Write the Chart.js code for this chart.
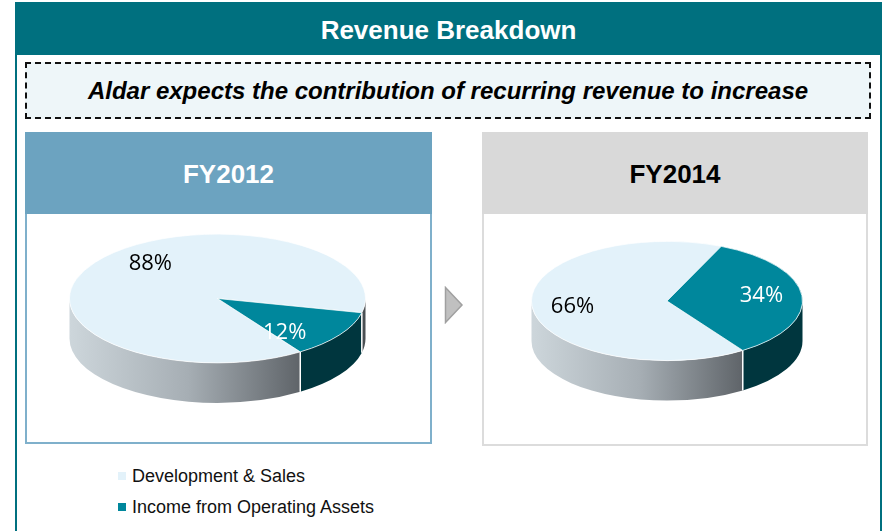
<!DOCTYPE html>
<html>
<head>
<meta charset="utf-8">
<script src="https://cdn.jsdelivr.net/npm/chart.js@4.4.0/dist/chart.umd.min.js"></script>
<style>
  html, body { margin: 0; padding: 0; background: #fff; }
  #page { position: relative; width: 885px; height: 531px; overflow: hidden; font-family: "Liberation Sans", Arial, sans-serif; }
  .abs { position: absolute; box-sizing: border-box; }
  #frame { left: 15px; top: 2px; width: 867px; height: 540px; border-left: 2px solid #00707F; border-right: 2px solid #00707F; }
  #header { left: 15px; top: 2px; width: 867px; height: 53px; background: #00707F; color: #fff; font-weight: bold; font-size: 26px; text-align: center; line-height: 56px; }
  #note { left: 25px; top: 62px; width: 846px; height: 57px; background: #EEF6F9; border: 2px dashed #111; font-weight: bold; font-style: italic; font-size: 24px; text-align: center; line-height: 53px; color: #000; }
  .panel { top: 132px; }
  .panel .head { position: absolute; left: 0; top: 0; right: 0; height: 82px; font-weight: bold; font-size: 26px; text-align: center; line-height: 84px; }
  #p1 { left: 25px; width: 407px; height: 312px; border: 2px solid #7FB0CB; border-top: none; }
  #p1 .head { background: #6CA3C0; color: #fff; left: -2px; right: -2px; }
  #p2 { left: 482px; width: 386px; height: 314px; border: 2px solid #DCDCDC; border-top: none; }
  #p2 .head { background: #D9D9D9; color: #000; left: -2px; right: -2px; }
  canvas { position: absolute; }
  #legend { left: 118px; top: 462px; font-size: 18px; color: #111; }
  #legend .row { position: relative; height: 31px; line-height: 29px; padding-left: 14px; white-space: nowrap; }
  #legend .sw { position: absolute; left: 0; top: 10px; width: 8px; height: 8px; }
</style>
</head>
<body>
<div id="page">
  <div id="frame" class="abs"></div>
  <div id="header" class="abs">Revenue Breakdown</div>
  <div id="note" class="abs">Aldar expects the contribution of recurring revenue to increase</div>
  <div id="p1" class="abs panel"><div class="head" id="h1"></div></div>
  <div id="p2" class="abs panel"><div class="head" id="h2"></div></div>
  <svg class="abs" style="left:444px;top:286px" width="20" height="38">
    <polygon points="1.5,1.5 18,19 1.5,36.5" fill="#C0C0C0" stroke="#A0A0A0" stroke-width="1.5"/>
  </svg>
  <canvas id="c1" width="297" height="297" style="left:69px;top:150px"></canvas>
  <canvas id="c2" width="272" height="272" style="left:531px;top:165px"></canvas>
  <div id="legend" class="abs"></div>
</div>
<script>
const categories = ['Development & Sales', 'Income from Operating Assets'];
const years = ['FY2012', 'FY2014'];
const fy2012 = [88, 12];
const fy2014 = [66, 34];

const topColors = ['#E3F2FA', '#00879C'];
const labelColors = ['#000000', '#ffffff'];

// fake 3D: squash the pie vertically and paint the rim underneath
const pie3d = {
  id: 'pie3d',
  beforeDatasetsDraw(chart, args, opts) {
    const ctx = chart.ctx;
    const arcs = chart.getDatasetMeta(0).data;
    const { x, y, outerRadius: r } = arcs[0];
    const k = opts.tilt;
    const d = opts.depth / k;
    ctx.save();
    ctx.translate(x, y);
    ctx.scale(1, k);
    ctx.translate(-x, -y);

    const grey = ctx.createLinearGradient(x - r, 0, x + r, 0);
    grey.addColorStop(0, '#CDD6DB');
    grey.addColorStop(0.4, '#A6AEB4');
    grey.addColorStop(0.8, '#5B6065');
    grey.addColorStop(1, '#4A4F53');
    const sides = [grey, '#00363E'];
    const TAU = Math.PI * 2;

    arcs.forEach((arc, i) => {
      let s = arc.startAngle % TAU;
      if (s < 0) s += TAU;
      const e = s + (arc.endAngle - arc.startAngle);
      [[0, Math.PI], [TAU, TAU + Math.PI]].forEach(([lo, hi]) => {
        const a = Math.max(s, lo), b = Math.min(e, hi);
        if (b <= a) return;
        ctx.beginPath();
        ctx.arc(x, y, r, a, b);
        ctx.arc(x, y + d, r, b, a, true);
        ctx.closePath();
        ctx.fillStyle = sides[i];
        ctx.fill();
      });
    });
    // white seams where slices meet on the rim
    arcs.forEach(arc => {
      const a = arc.startAngle;
      if (Math.sin(a) > 0) {
        ctx.beginPath();
        ctx.moveTo(x + r * Math.cos(a), y + r * Math.sin(a));
        ctx.lineTo(x + r * Math.cos(a), y + r * Math.sin(a) + d);
        ctx.strokeStyle = '#ffffff';
        ctx.lineWidth = 1.5;
        ctx.stroke();
      }
    });
  },
  afterDatasetsDraw(chart) {
    chart.ctx.restore();
  },
  afterDraw(chart, args, opts) {
    const ctx = chart.ctx;
    const arcs = chart.getDatasetMeta(0).data;
    const values = chart.data.datasets[0].data;
    ctx.save();
    ctx.font = '22px "Open Sans", sans-serif';
    ctx.textAlign = 'center';
    ctx.textBaseline = 'middle';
    arcs.forEach((arc, i) => {
      const mid = (arc.startAngle + arc.endAngle) / 2;
      const lx = arc.x + arc.outerRadius * opts.labelX * Math.cos(mid);
      const ly = arc.y + arc.outerRadius * opts.tilt * opts.labelY * Math.sin(mid);
      ctx.fillStyle = labelColors[i];
      ctx.fillText(values[i] + '%', lx, ly);
    });
    ctx.restore();
  }
};

function makePie(id, values, tilt, labelX, labelY) {
  return new Chart(document.getElementById(id), {
    type: 'pie',
    data: {
      labels: categories,
      datasets: [{
        data: values,
        backgroundColor: topColors,
        borderColor: '#ffffff',
        borderWidth: 1,
        clip: false
      }]
    },
    options: {
      responsive: false,
      animation: false,
      rotation: 146,
      events: [],
      layout: { padding: 0 },
      plugins: {
        legend: { display: false },
        tooltip: { enabled: false },
        pie3d: { tilt: tilt, depth: 40, labelX: labelX, labelY: labelY }
      }
    },
    plugins: [pie3d]
  });
}

document.getElementById('h1').textContent = years[0];
document.getElementById('h2').textContent = years[1];

makePie('c1', fy2012, 0.435, 0.55, 0.95);
makePie('c2', fy2014, 0.44, 0.7, 1.0);

// legend under the left panel
const legend = document.getElementById('legend');
categories.forEach((name, i) => {
  const row = document.createElement('div');
  row.className = 'row';
  row.innerHTML = '<span class="sw" style="background:' + topColors[i] + '"></span>' + name;
  legend.appendChild(row);
});
</script>
</body>
</html>
